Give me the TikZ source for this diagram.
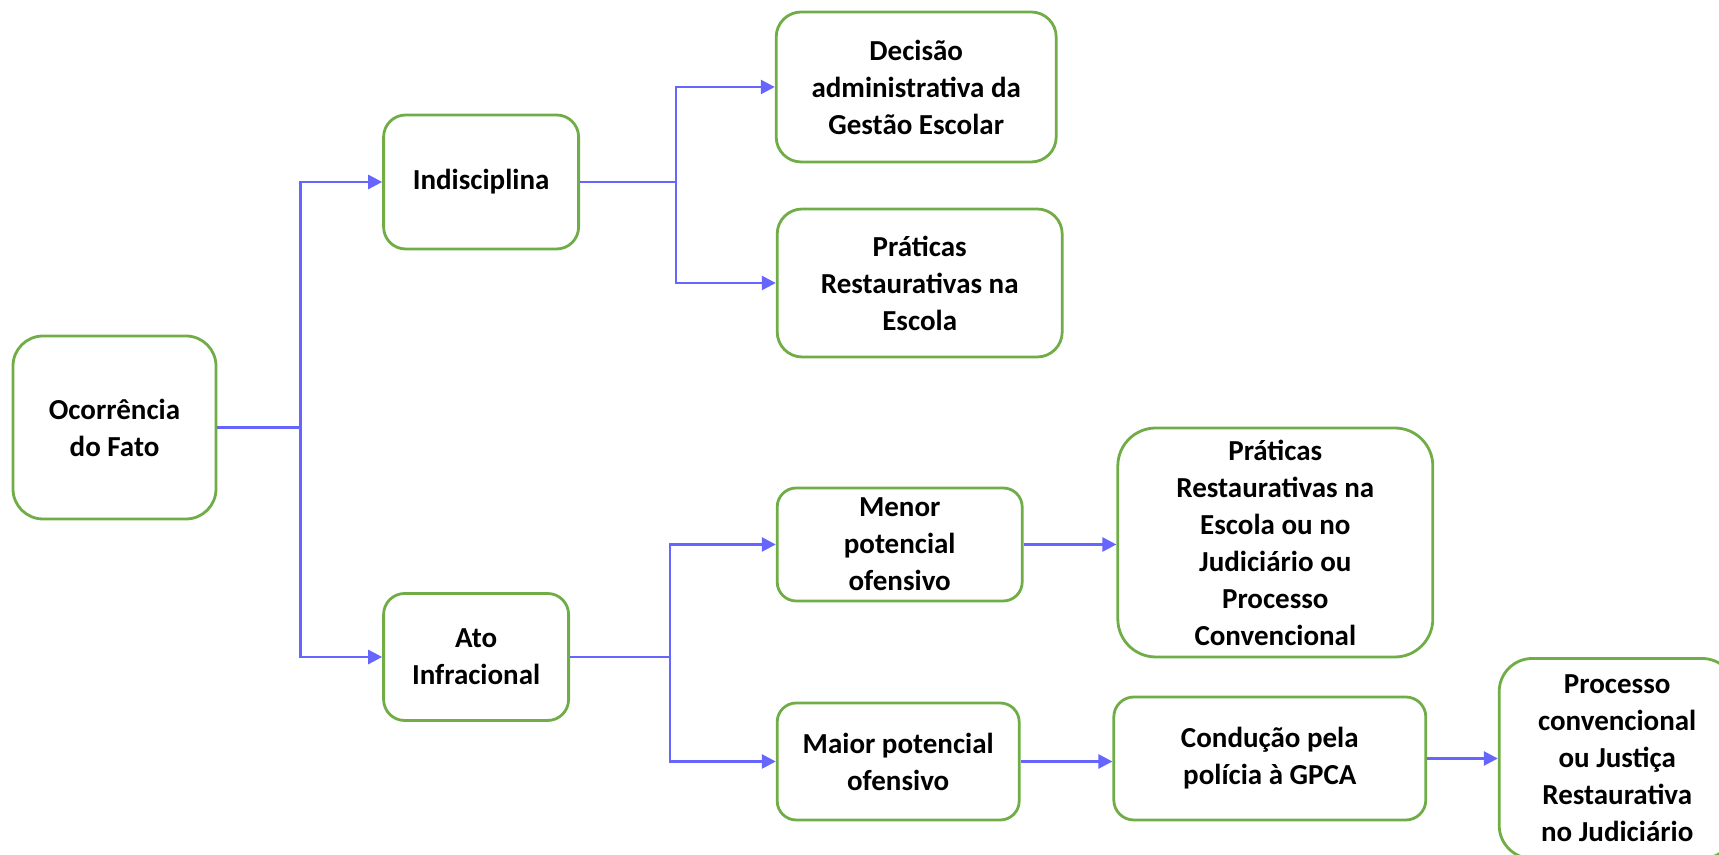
\documentclass[tikz,border=0pt]{standalone}
\usepackage{fontspec}
\setmainfont{Carlito}
\usepackage{xcolor}
\usepackage{tikz}
\usetikzlibrary{positioning,arrows.meta}

\definecolor{boxgreen}{RGB}{112,173,71}
\definecolor{linkblue}{RGB}{102,102,255}

\begin{document}
\begin{tikzpicture}[
    >={Triangle[length=7pt,width=7pt]},
    box/.style={rectangle, draw=boxgreen, fill=white, line width=1.4pt, align=center, inner sep=2pt, font=\fontsize{14.5}{18.5}\selectfont\bfseries},
    arrow/.style={->, line width=1.3pt, draw=linkblue}
]
\useasboundingbox (0,0) rectangle (859.5pt,427.5pt);
\clip (0,0) rectangle (859.5pt,427.5pt);

% Root
\node[box, minimum width=101.5pt, minimum height=91.5pt, rounded corners=15pt] (fato) at (57.25pt,213.75pt) {Ocorrência\\do Fato};

% Level 1: type of occurrence
\node[box, minimum width=97.5pt, minimum height=67pt, rounded corners=11pt, right=82.4pt of fato, yshift=122.75pt] (indisc) {Indisciplina};
\node[box, minimum width=92.5pt, minimum height=63.5pt, rounded corners=10.5pt, right=82.4pt of fato, yshift=-114.75pt] (ato) {Ato\\Infracional};

% Level 2: indiscipline
\node[box, minimum width=140pt, minimum height=75pt, rounded corners=12.5pt, right=97.4pt of indisc, yshift=47.5pt] (decisao) {Decisão\\administrativa da\\Gestão Escolar};
\node[box, minimum width=142.5pt, minimum height=74pt, rounded corners=12.5pt, right=97.9pt of indisc, yshift=-50.5pt] (praticas) {Práticas\\Restaurativas na\\Escola};

% Level 2: infraction
\node[box, minimum width=122.5pt, minimum height=56.5pt, rounded corners=9.5pt, right=102.9pt of ato, yshift=56.25pt] (menor) {Menor\\potencial\\ofensivo};
\node[box, minimum width=121pt, minimum height=58.5pt, rounded corners=9.5pt, right=102.9pt of ato, yshift=-52.25pt] (maior) {Maior potencial\\ofensivo};

% Level 3
\node[box, minimum width=157.5pt, minimum height=114.5pt, rounded corners=19pt, right=46.4pt of menor, yshift=1pt] (pratjud) {Práticas\\Restaurativas na\\Escola ou no\\Judiciário ou\\Processo\\Convencional};
\node[box, minimum width=156pt, minimum height=61.5pt, rounded corners=10pt, right=45.9pt of maior, yshift=1.5pt] (conducao) {Condução pela\\polícia à GPCA};
\node[box, minimum width=118pt, minimum height=100pt, rounded corners=16.5pt, right=35.3pt of conducao] (processo) {Processo\\convencional\\ou Justiça\\Restaurativa\\no Judiciário};

% Arrows from root
\draw[arrow] (fato.east) -- ++(41.5pt,0) |- (indisc.west);
\draw[arrow] (fato.east) -- ++(41.5pt,0) |- (ato.west);

% Arrows indiscipline
\draw[arrow] (indisc.east) -- ++(48pt,0) |- (decisao.west);
\draw[arrow] (indisc.east) -- ++(48pt,0) |- (praticas.west);

% Arrows infraction
\draw[arrow] (ato.east) -- ++(50pt,0) |- (menor.west);
\draw[arrow] (ato.east) -- ++(50pt,0) |- (maior.west);
\draw[arrow] (menor.east) -- (menor.east -| pratjud.west);
\draw[arrow] (maior.east) -- (maior.east -| conducao.west);
\draw[arrow] (conducao.east) -- (conducao.east -| processo.west);

\end{tikzpicture}
\end{document}
